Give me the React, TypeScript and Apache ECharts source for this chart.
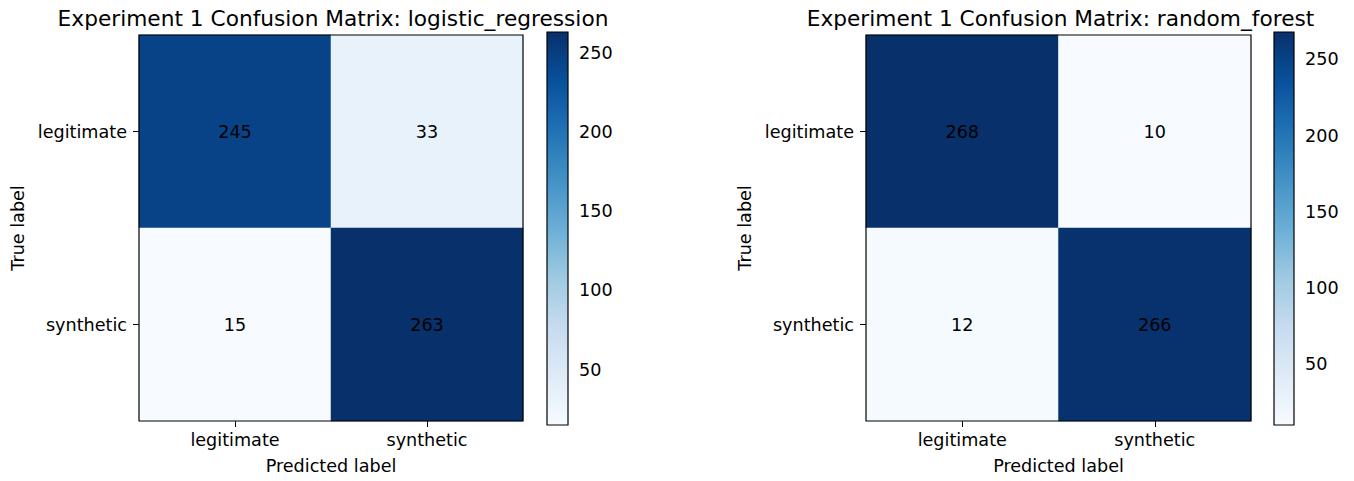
import React, { useEffect, useRef } from "react";
import * as echarts from "echarts";

const classes = ["legitimate", "synthetic"];
const titleLeft = "Experiment 1 Confusion Matrix: logistic_regression";
const titleRight = "Experiment 1 Confusion Matrix: random_forest";
// rows = true label, cols = predicted label
const matrixLeft = [
  [245, 33],
  [15, 263],
];
const matrixRight = [
  [268, 10],
  [12, 266],
];
const colorbarTicks = [50, 100, 150, 200, 250];
const blues = ["#f7fbff", "#deebf7", "#c6dbef", "#9ecae1", "#6baed6", "#4292c6", "#2171b5", "#08519c", "#08306b"];

const FONT = "DejaVu Sans";
const FS = 17.6;

export default function App() {
  const ref = useRef<HTMLDivElement>(null);
  useEffect(() => {
    if (!ref.current) return;
    const chart = echarts.init(ref.current, null, { renderer: "svg" });

    const panels = [
      { m: matrixLeft, title: titleLeft, grid: { left: 139, top: 35, width: 384, height: 386 }, cb: { left: 547, top: 32, width: 21, height: 393 } },
      { m: matrixRight, title: titleRight, grid: { left: 866, top: 35, width: 385, height: 386 }, cb: { left: 1274, top: 32, width: 20, height: 393 } },
    ];

    const grids: any[] = [];
    const xAxes: any[] = [];
    const yAxes: any[] = [];
    const series: any[] = [];
    const visualMaps: any[] = [];
    const graphics: any[] = [];

    panels.forEach((p) => {
      const flat = p.m.flat();
      const mn = Math.min(...flat);
      const mx = Math.max(...flat);
      const gi = grids.length;
      grids.push({ ...p.grid, show: false });
      xAxes.push({
        type: "category",
        gridIndex: gi,
        data: classes,
        position: "bottom",
        name: "Predicted label",
        nameLocation: "middle",
        nameGap: 36,
        nameTextStyle: { fontFamily: FONT, fontSize: FS, color: "#000" },
        axisLine: { show: false },
        axisTick: { show: true, alignWithLabel: true, length: 6, lineStyle: { color: "#000" } },
        axisLabel: { fontFamily: FONT, fontSize: FS, color: "#000", margin: 10 },
        splitLine: { show: false },
      });
      yAxes.push({
        type: "category",
        gridIndex: gi,
        data: classes,
        inverse: true,
        name: "True label",
        nameLocation: "middle",
        nameGap: 112,
        nameRotate: 90,
        nameTextStyle: { fontFamily: FONT, fontSize: FS, color: "#000" },
        axisLine: { show: false },
        axisTick: { show: true, alignWithLabel: true, length: 6, lineStyle: { color: "#000" } },
        axisLabel: { fontFamily: FONT, fontSize: FS, color: "#000", margin: 12 },
        splitLine: { show: false },
      });
      const data: any[] = [];
      p.m.forEach((row, r) => row.forEach((v, c) => data.push([c, r, v])));
      const si = series.length;
      series.push({
        type: "heatmap",
        xAxisIndex: xAxes.length - 1,
        yAxisIndex: yAxes.length - 1,
        data,
        label: { show: true, fontFamily: FONT, fontSize: FS, color: "#000" },
        itemStyle: { borderWidth: 0 },
        emphasis: { disabled: true },
      });
      visualMaps.push({
        type: "continuous",
        show: false,
        seriesIndex: si,
        min: mn,
        max: mx,
        dimension: 2,
        inRange: { color: blues },
      });

      // colorbar axis grid
      const ci = grids.length;
      grids.push({ ...p.cb, show: false });
      xAxes.push({ type: "value", gridIndex: ci, show: false, min: 0, max: 1 });
      yAxes.push({
        type: "value",
        gridIndex: ci,
        min: mn,
        max: mx,
        position: "right",
        axisLine: { show: false },
        axisTick: { show: true, length: 6, lineStyle: { color: "#000" }, customValues: colorbarTicks },
        axisLabel: { fontFamily: FONT, fontSize: FS, color: "#000", margin: 11, customValues: colorbarTicks },
        splitLine: { show: false },
      });

      // heatmap frame
      graphics.push({
        type: "rect",
        shape: { x: p.grid.left, y: p.grid.top, width: p.grid.width, height: p.grid.height },
        style: { fill: null, stroke: "#000", lineWidth: 1.2 },
        z: 20,
        silent: true,
      });
      // colorbar
      graphics.push({
        type: "rect",
        shape: { x: p.cb.left, y: p.cb.top, width: p.cb.width, height: p.cb.height },
        style: {
          fill: new echarts.graphic.LinearGradient(0, 1, 0, 0, blues.map((c, k) => ({ offset: k / (blues.length - 1), color: c }))),
          stroke: "#000",
          lineWidth: 1.2,
        },
        z: 10,
      });
      graphics.push({
        type: "text",
        x: p.grid.left + p.grid.width / 2 + 2,
        y: 18,
        style: { text: p.title, fontFamily: FONT, fontSize: 21.7, fill: "#000", textAlign: "center", textVerticalAlign: "middle" },
      });
    });

    chart.setOption({
      animation: false,
      backgroundColor: "#fff",
      grid: grids,
      xAxis: xAxes,
      yAxis: yAxes,
      visualMap: visualMaps,
      series,
      graphic: graphics,
    });
    return () => chart.dispose();
  }, []);
  return <div ref={ref} style={{ position: "absolute", left: 0, top: 0, width: 1354, height: 481 }} />;
}
